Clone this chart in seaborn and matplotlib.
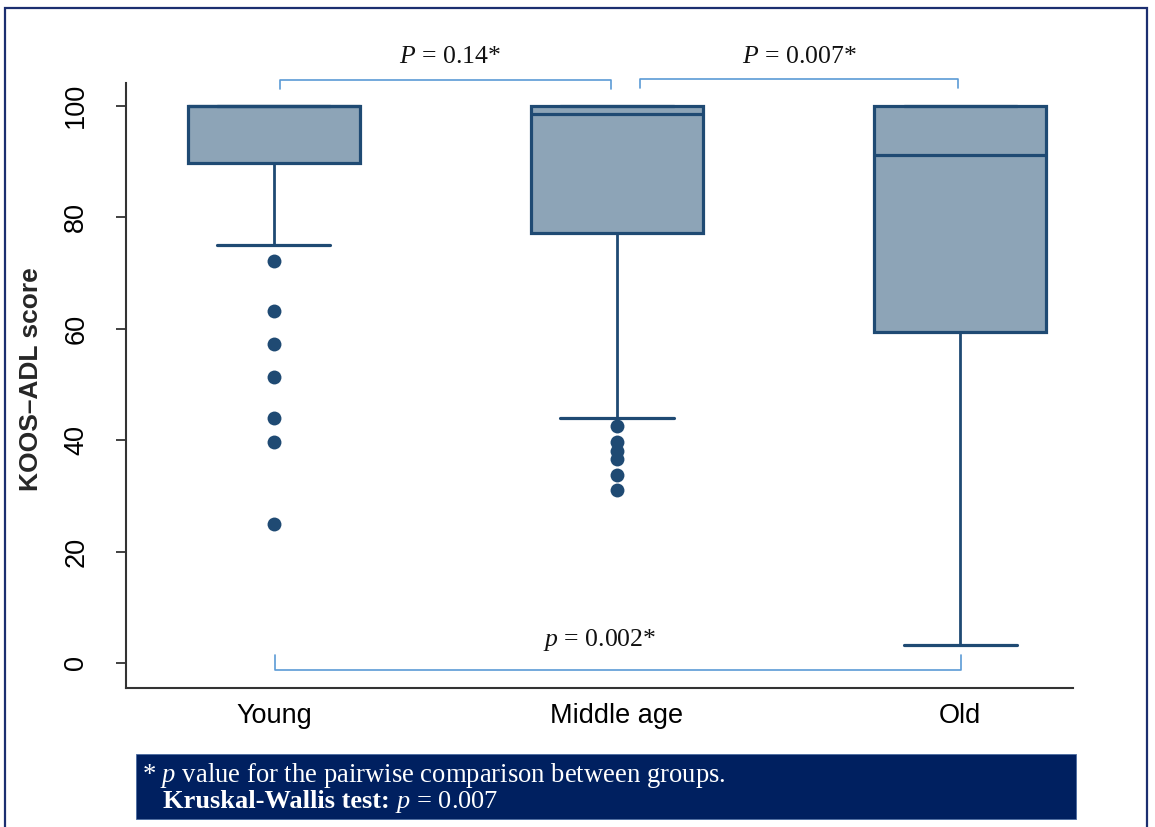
import matplotlib
matplotlib.use("Agg")
import matplotlib.pyplot as plt
from matplotlib.patches import Rectangle
import pandas as pd
import seaborn as sns

# Group summaries of the KOOS-ADL score
groups = ["Young", "Middle age", "Old"]
q1 = [89.8, 77.2, 59.4]
median = [100.0, 98.6, 91.2]
q3 = [100.0, 100.0, 100.0]
whisker_low = [75.0, 44.0, 3.2]
whisker_high = [100.0, 100.0, 100.0]

# Outlying observations per group
outliers_young = [72.2, 63.2, 57.3, 51.4, 44.0, 39.7, 25.0]
outliers_middle = [42.6, 39.7, 38.1, 36.6, 33.8, 31.1]
outliers_old = []

y_ticks = [0, 20, 40, 60, 80, 100]

# Pairwise comparisons: (group a, group b, p label)
comparisons = [("Young", "Middle age", "0.14*"),
               ("Middle age", "Old", "0.007*"),
               ("Young", "Old", "0.002*")]
footnote_1 = "value for the pairwise comparison between groups."
footnote_bold = "Kruskal-Wallis test:"
footnote_p = "0.007"

FILL = "#8da4b7"
EDGE = "#1f4a73"
BRACKET = "#5b9bd5"
NAVY = "#002060"
SERIF = "Liberation Serif"

sns.set_theme(style="ticks")
plt.rcParams["font.family"] = ["Liberation Sans", "DejaVu Sans"]
plt.rcParams["mathtext.fontset"] = "custom"
plt.rcParams["mathtext.rm"] = SERIF
plt.rcParams["mathtext.it"] = SERIF + ":italic"
plt.rcParams["mathtext.bf"] = SERIF + ":bold"

fig = plt.figure(figsize=(11.55, 8.27), dpi=100)
fig.patch.set_facecolor("white")
ax = fig.add_axes([126 / 1155, 1 - 688 / 827, (1073 - 126) / 1155, (688 - 83) / 827])
ax.set_facecolor("white")

stats = []
for i, g in enumerate(groups):
    stats.append(dict(label=g, q1=q1[i], med=median[i], q3=q3[i],
                      whislo=whisker_low[i], whishi=whisker_high[i], fliers=[]))
pos = list(range(len(groups)))
ax.bxp(stats, positions=pos, widths=0.5, patch_artist=True, showfliers=False,
       capwidths=0.33,
       boxprops=dict(facecolor=FILL, edgecolor=EDGE, linewidth=2.3),
       medianprops=dict(color=EDGE, linewidth=2.3),
       whiskerprops=dict(color=EDGE, linewidth=2.0),
       capprops=dict(color=EDGE, linewidth=2.3))

out_df = pd.DataFrame({
    "group": ["Young"] * len(outliers_young) + ["Middle age"] * len(outliers_middle)
             + ["Old"] * len(outliers_old),
    "score": outliers_young + outliers_middle + outliers_old,
})
sns.stripplot(data=out_df, x="group", y="score", order=groups, jitter=False,
              color=EDGE, size=10, linewidth=0, ax=ax, zorder=3)

ax.set_xlim(-0.431, 2.329)
ax.set_ylim(-4.5, 104.1)
ax.set_xticks(pos)
ax.set_xticklabels(groups, fontsize=19.5)
ax.set_yticks(y_ticks)
ax.set_yticklabels([str(t) for t in y_ticks], fontsize=19.5, rotation=90, va="center")
ax.tick_params(axis="x", length=0, pad=11, colors="black")
ax.tick_params(axis="y", length=7.5, width=1.3, pad=19, colors="#333333", labelcolor="black")
ax.set_xlabel("")
ax.set_ylabel("KOOS\u2013ADL score", fontsize=19, fontweight="bold")
ax.yaxis.set_label_coords(-0.088, 0.51)
for side in ["top", "right"]:
    ax.spines[side].set_visible(False)
for side in ["left", "bottom"]:
    ax.spines[side].set_color("#333333")
    ax.spines[side].set_linewidth(1.5)

# Comparison brackets
idx = {g: i for i, g in enumerate(groups)}
a, b, lab = comparisons[0]
ax.plot([idx[a] + 0.018, idx[a] + 0.018, idx[b] - 0.018, idx[b] - 0.018],
        [103.0, 104.7, 104.7, 103.0], color=BRACKET, lw=1.2, clip_on=False)
ax.text((idx[a] + idx[b]) / 2 + 0.013, 108.8, f"$P$ = {lab}", family=SERIF,
        fontsize=18.5, ha="center", va="center", color="#111111")
a, b, lab = comparisons[1]
ax.plot([idx[a] + 0.068, idx[a] + 0.068, idx[b] - 0.005, idx[b] - 0.005],
        [103.2, 104.9, 104.9, 103.2], color=BRACKET, lw=1.2, clip_on=False)
ax.text((idx[a] + idx[b]) / 2 + 0.033, 108.8, f"$P$ = {lab}", family=SERIF,
        fontsize=18.5, ha="center", va="center", color="#111111")
a, b, lab = comparisons[2]
ax.plot([idx[a] + 0.003, idx[a] + 0.003, idx[b] + 0.003, idx[b] + 0.003],
        [1.4, -1.3, -1.3, 1.4], color=BRACKET, lw=1.2, clip_on=False)
ax.text(0.95, 4.1, f"$p$ = {lab}", family=SERIF, fontsize=18.5,
        ha="center", va="center", color="#111111")

# Outer frame
fig.patches.append(Rectangle((5 / 1155, -0.05), 1142 / 1155, 0.9903 + 0.05,
                             transform=fig.transFigure, fill=False,
                             edgecolor="#1c2f70", linewidth=1.6))

# Footnote panel
fig.patches.append(Rectangle((136 / 1155, 1 - 819 / 827), 940 / 1155, 65 / 827,
                             transform=fig.transFigure, facecolor=NAVY,
                             edgecolor="#4a6aa0", linewidth=0.6))
fig.text(142 / 1155, 1 - 782 / 827, f"* $p$ {footnote_1}", family=SERIF,
         fontsize=19.2, color="white", va="baseline", ha="left")
t_bold = fig.text(163 / 1155, 1 - 808 / 827, footnote_bold, family=SERIF,
                  fontweight="bold", fontsize=19, color="white", va="baseline", ha="left")
fig.canvas.draw()
bb = t_bold.get_window_extent()
fig.text(bb.x1 / fig.bbox.width, 1 - 808 / 827, f" $p$ = {footnote_p}",
         family=SERIF, fontsize=19, color="white", va="baseline", ha="left")

fig.savefig("out.png", dpi=100, facecolor="white")
